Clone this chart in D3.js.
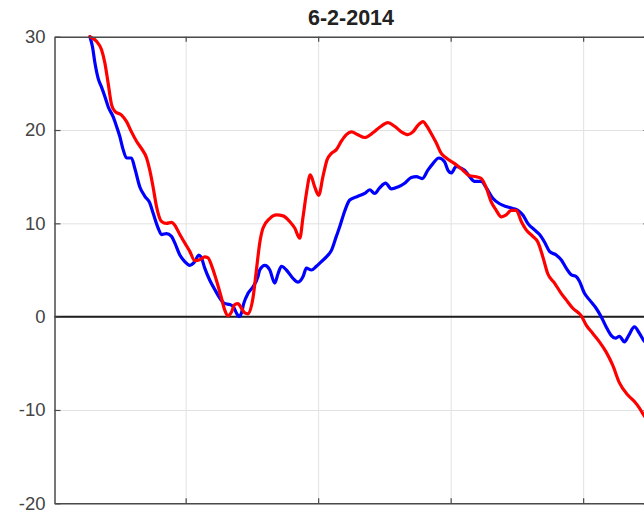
<!DOCTYPE html>
<html>
<head>
<meta charset="utf-8">
<script src="https://cdn.jsdelivr.net/npm/d3@7"></script>
<style>
  html, body { margin: 0; padding: 0; background: #fff; }
  svg { display: block; }
</style>
</head>
<body>
<svg id="chart" width="644" height="519"></svg>
<script>
// ---- data ----
const title = "6-2-2014";
const yTicks = [-20, -10, 0, 10, 20, 30];
const xTicks = [100, 200, 300, 400];
const xDomain = [1, 450];
const yDomain = [-20, 30];

const blueX = [27.7,29.7,31.5,34.0,36.5,39.0,41.5,45.3,47.8,50.3,52.8,55.4,59.1,61.6,65.4,69.2,72.9,75.4,79.2,81.8,85.5,89.3,91.8,95.6,99.3,103.1,106.9,109.9,111.9,114.4,118.2,122.0,125.7,129.5,133.3,135.8,138.3,140.1,142.1,143.8,147.1,150.8,154.6,155.9,159.7,163.5,167.2,169.7,172.3,176.0,181.0,184.8,188.6,191.1,194.9,198.7,202.4,206.2,210.0,213.7,216.2,220.0,223.8,230.0,235.1,238.9,242.6,246.4,250.9,255.2,260.2,265.3,270.3,274.1,278.6,282.8,286.6,291.1,295.4,297.9,300.5,304.2,308.0,310.5,314.3,318.0,323.1,326.9,331.8,336.9,341.9,346.9,350.7,354.5,358.2,363.3,367.1,370.8,374.6,379.7,383.4,387.2,391.0,394.7,397.2,401.0,404.8,409.8,413.6,417.4,421.1,424.4,427.4,431.2,434.4,438.7,442.5,445.5,448.5];
const blueY = [30.0,28.9,27.2,25.5,24.6,23.6,22.5,21.4,20.4,19.3,17.9,17.0,17.0,15.9,13.9,12.9,12.2,11.1,9.5,8.8,8.9,8.6,7.9,6.6,5.9,5.5,5.9,6.6,6.3,5.2,3.9,2.9,2.0,1.4,1.3,1.1,0.4,0.0,0.4,1.4,2.5,3.2,4.3,5.0,5.5,5.0,3.6,4.6,5.4,5.0,4.1,3.7,4.3,5.2,5.0,5.4,5.9,6.4,7.1,8.6,9.6,11.3,12.5,12.9,13.2,13.6,13.2,13.8,14.3,13.7,13.9,14.3,14.9,15.0,14.8,15.7,16.4,17.0,16.6,15.7,15.4,16.1,15.9,15.7,15.0,14.5,14.5,13.8,12.7,12.1,11.8,11.6,11.4,10.9,10.0,9.3,8.8,8.0,7.0,6.6,6.1,5.2,4.5,4.3,3.8,2.5,1.8,0.9,0.0,-1.1,-2.0,-2.3,-2.1,-2.7,-2.0,-1.1,-1.8,-2.5,-3.0];

const redX = [27.7,32.7,36.5,39.0,41.5,44.1,46.6,51.6,55.4,59.1,62.9,66.7,70.5,72.9,75.4,78.0,81.8,85.5,89.3,91.8,95.6,99.3,103.1,106.9,110.6,114.4,116.9,119.5,123.2,127.0,129.5,132.0,134.6,137.0,139.5,142.1,144.6,147.1,150.9,153.4,155.9,158.4,163.4,168.5,173.5,178.5,182.3,186.1,188.6,191.1,194.1,197.4,200.4,203.6,206.7,210.0,213.7,217.5,221.3,225.1,230.0,235.1,241.3,246.4,252.7,257.7,262.8,267.7,271.5,275.3,279.1,282.1,285.4,289.2,292.9,296.7,303.0,309.2,314.3,319.3,323.1,326.9,330.6,334.4,338.2,341.9,345.7,349.5,353.3,357.0,362.0,365.8,369.6,373.3,378.4,383.4,387.2,392.2,398.5,402.3,407.3,412.3,417.4,422.3,427.4,433.7,438.7,442.5,445.5,448.5];
const redY = [30.0,29.5,28.6,27.2,25.0,22.7,22.0,21.6,20.9,19.8,18.8,18.0,17.0,15.7,13.9,11.8,10.2,10.0,10.1,9.8,8.8,7.9,7.0,6.0,6.1,6.4,6.3,5.5,3.9,2.0,0.7,0.1,0.5,1.3,1.4,0.9,0.4,0.3,2.1,5.0,7.9,9.5,10.5,10.9,10.8,10.2,9.5,8.4,10.7,13.2,15.2,13.9,13.0,15.0,16.8,17.5,17.9,18.8,19.5,19.8,19.5,19.2,19.7,20.3,20.8,20.4,19.8,19.5,19.8,20.5,20.9,20.4,19.6,18.6,17.5,17.0,16.4,15.7,15.1,15.0,14.8,13.8,12.3,11.4,10.7,10.9,11.4,11.4,10.2,9.3,8.6,8.0,6.4,4.6,3.6,2.5,1.8,0.9,0.1,-0.9,-1.8,-2.7,-3.8,-5.2,-7.1,-8.4,-9.1,-9.8,-10.5,-11.1];

// ---- layout ----
const plotL = 54.5, plotT = 36.7, plotB = 503.3, plotR = 649.4;

const svg = d3.select("#chart");
const x = d3.scaleLinear().domain(xDomain).range([plotL, plotR]);
const y = d3.scaleLinear().domain(yDomain).range([plotB, plotT]);

const FONT = "'Liberation Sans', Arial, Helvetica, sans-serif";
const AXC = "#4a4a4a";
const GRIDC = "#e2e2e2";

// grid lines
svg.append("g").attr("transform", `translate(0,${plotB})`)
  .call(d3.axisBottom(x).tickValues(xTicks).tickSize(-(plotB - plotT)).tickFormat(""))
  .call(g => { g.select(".domain").remove(); g.selectAll("line").attr("stroke", GRIDC).attr("stroke-width", 1); });
svg.append("g").attr("transform", `translate(${plotL},0)`)
  .call(d3.axisLeft(y).tickValues(yTicks).tickSize(-(plotR - plotL)).tickFormat(""))
  .call(g => { g.select(".domain").remove(); g.selectAll("line").attr("stroke", GRIDC).attr("stroke-width", 1); });

// zero line
svg.append("line")
  .attr("x1", x(xDomain[0])).attr("x2", x(xDomain[1]))
  .attr("y1", y(0)).attr("y2", y(0))
  .attr("stroke", "#1e1e1e").attr("stroke-width", 2);

// series lines
svg.append("clipPath").attr("id", "clip").append("rect")
  .attr("x", plotL).attr("y", plotT - 2).attr("width", plotR - plotL).attr("height", plotB - plotT + 2);

const lineGen = d3.line().x(d => x(d[0])).y(d => y(d[1])).curve(d3.curveMonotoneX);
const series = [
  { xs: blueX, ys: blueY, color: "#0000ff" },
  { xs: redX, ys: redY, color: "#ff0000" }
];
series.forEach(s => {
  svg.append("path")
    .attr("clip-path", "url(#clip)")
    .datum(s.xs.map((v, i) => [v, s.ys[i]]))
    .attr("fill", "none")
    .attr("stroke", s.color)
    .attr("stroke-width", 3.2)
    .attr("stroke-linejoin", "round")
    .attr("stroke-linecap", "round")
    .attr("d", lineGen);
});

// axes (box, inward ticks)
function styleAxis(g) {
  g.select(".domain").attr("stroke", AXC).attr("stroke-width", 1.5);
  g.selectAll(".tick line").attr("stroke", AXC).attr("stroke-width", 1.2);
  g.selectAll("text").attr("fill", "#444").style("font-family", FONT).style("font-size", "18.5px");
}
svg.append("g").attr("transform", `translate(${plotL},0)`)
  .call(d3.axisLeft(y).tickValues(yTicks).tickFormat(d => String(d))
    .tickSizeInner(-6).tickSizeOuter(0).tickPadding(9))
  .call(styleAxis);
svg.append("g").attr("transform", `translate(${plotR},0)`)
  .call(d3.axisRight(y).tickValues(yTicks).tickSizeInner(-6).tickSizeOuter(0).tickFormat(""))
  .call(styleAxis);
svg.append("g").attr("transform", `translate(0,${plotB})`)
  .call(d3.axisBottom(x).tickValues(xTicks).tickSizeInner(-5).tickSizeOuter(0).tickFormat(""))
  .call(styleAxis);
svg.append("g").attr("transform", `translate(0,${plotT})`)
  .call(d3.axisTop(x).tickValues(xTicks).tickSizeInner(-5).tickSizeOuter(0).tickFormat(""))
  .call(styleAxis);

// title
svg.append("text")
  .attr("x", 351).attr("y", 25)
  .attr("text-anchor", "middle")
  .style("font-family", FONT)
  .style("font-weight", "bold")
  .style("font-size", "21.5px")
  .attr("fill", "#222")
  .text(title);
</script>
</body>
</html>
